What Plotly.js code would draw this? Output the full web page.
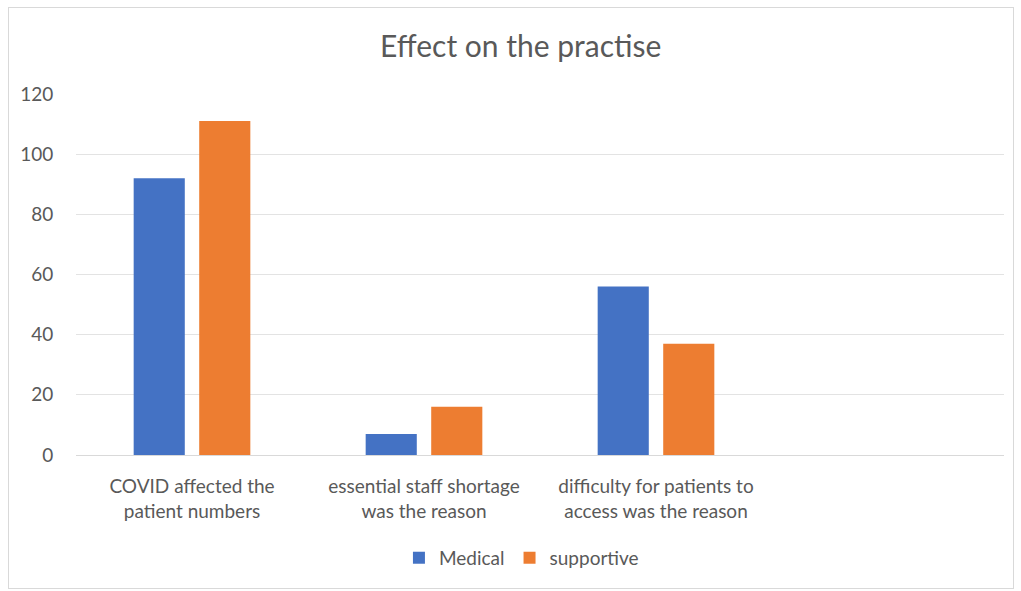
<!DOCTYPE html>
<html>
<head>
<meta charset="utf-8">
<script src="https://cdn.plot.ly/plotly-3.0.1.min.js"></script>
<style>
html,body{margin:0;padding:0;background:#fff;}
#wrap{position:relative;width:1021px;height:591px;}
#chart{width:1021px;height:591px;}
#frame{position:absolute;left:8px;top:7px;width:1004px;height:580px;border:1px solid #d9d9d9;pointer-events:none;}
</style>
</head>
<body>
<div id="wrap"><div id="chart"></div><div id="frame"></div></div>
<script>
var categories = ["COVID affected the<br>patient numbers", "essential staff shortage<br>was the reason", "difficulty for patients to<br>access was the reason"];
var medical = [92, 7, 56];
var supportive = [111, 16, 37];
var yTicks = [0, 20, 40, 60, 80, 100, 120];

var font = "Lato, 'Open Sans', sans-serif";
var data = [
  {type:'bar', name:'Medical', x:categories, y:medical, marker:{color:'#4472c4'}},
  {type:'bar', name:'supportive', x:categories, y:supportive, marker:{color:'#ed7d31'}}
];
var layout = {
  width:1021, height:591,
  margin:{l:76, r:17, t:94, b:136, autoexpand:false},
  paper_bgcolor:'rgba(0,0,0,0)', plot_bgcolor:'#fff',
  title:{text:'Effect on the practise', font:{family:font, size:30, color:'#595959'}, x:0.51, xanchor:'center', y:0.922, yanchor:'middle'},
  barmode:'group', bargap:0.435, bargroupgap:0.22,
  showlegend:true,
  legend:{orientation:'h', x:0.48, xanchor:'center', y:-0.285, yanchor:'middle', font:{family:font, size:19, color:'#595959'}, itemwidth:30, traceorder:'normal'},
  xaxis:{type:'category', range:[-0.5, 3.5], showgrid:false, showline:true, linecolor:'#d9d9d9', linewidth:1, automargin:false,
         tickfont:{family:font, size:19, color:'#595959'}, ticks:'outside', ticklen:14, tickcolor:'rgba(0,0,0,0)', fixedrange:true},
  yaxis:{range:[0,120], tickvals:yTicks, ticktext:yTicks.map(String), showgrid:true, gridcolor:'#e3e3e3', zeroline:false, automargin:false,
         showline:false, ticks:'outside', ticklen:18, tickcolor:'rgba(0,0,0,0)',
         tickfont:{family:font, size:19, color:'#595959'}}
};
Plotly.newPlot('chart', data, layout, {displayModeBar:false, staticPlot:true});
</script>
</body>
</html>
